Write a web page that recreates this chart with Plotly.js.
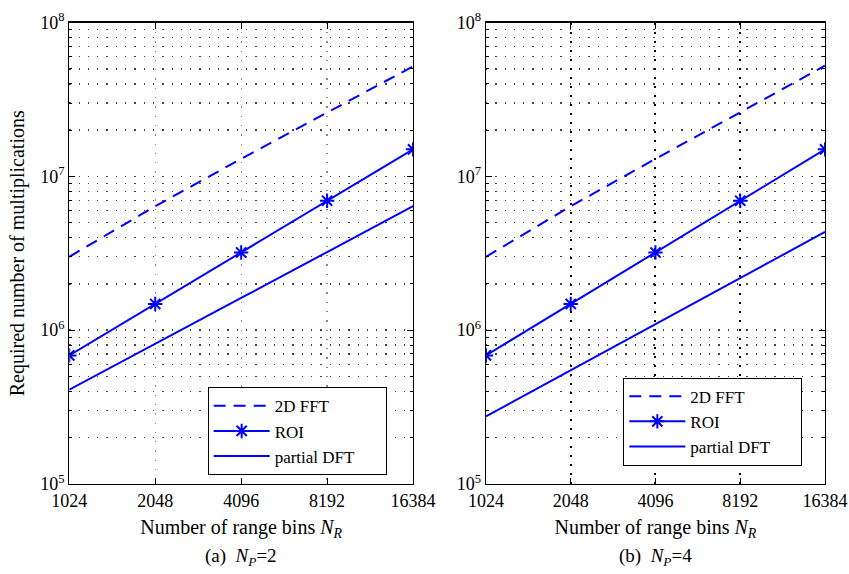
<!DOCTYPE html>
<html>
<head>
<meta charset="utf-8">
<script src="https://cdn.plot.ly/plotly-3.0.1.min.js"></script>
<style>html,body{margin:0;padding:0;background:#fff;}#chart{width:849px;height:574px;}</style>
</head>
<body>
<div id="chart"></div>
<script>
// Data
const rangeBins = [1024, 2048, 4096, 8192, 16384];
const xTickText = ['1024', '2048', '4096', '8192', '16384'];
const yMajorVals = [1e5, 1e6, 1e7, 1e8];
const yMajorText = ['10<sup>5</sup>', '10<sup>6</sup>', '10<sup>7</sup>', '10<sup>8</sup>'];
const seriesNames = ['2D FFT', 'ROI', 'partial DFT'];

// (a) N_P = 2
const fftA  = [3.0e6, 6.4e6, 1.3e7, 2.6e7, 5.2e7];
const roiA  = [6.85e5, 1.48e6, 3.2e6, 6.95e6, 1.5e7];
const pdftA = [4.1e5, 8.2e5, 1.62e6, 3.22e6, 6.4e6];
// (b) N_P = 4
const fftB  = [3.0e6, 6.4e6, 1.3e7, 2.6e7, 5.25e7];
const roiB  = [6.85e5, 1.48e6, 3.2e6, 6.95e6, 1.5e7];
const pdftB = [2.75e5, 5.5e5, 1.1e6, 2.2e6, 4.35e6];

const minorVals = [];
[1e5, 1e6, 1e7].forEach(d => { for (let k = 2; k <= 9; k++) minorVals.push(k * d); });

const BLUE = '#0000ff';
const FONT = 'Liberation Serif, Times New Roman, serif';
const PAD = '&nbsp;&nbsp;&nbsp;&nbsp;&nbsp;&nbsp;';

function traces(fft, roi, pdft, xa, ya, leg) {
  return [
    {x: rangeBins, y: fft, name: seriesNames[0] + PAD, xaxis: xa, yaxis: ya, legend: leg,
     mode: 'lines', line: {color: BLUE, width: 2, dash: '12px,8px'}},
    {x: rangeBins, y: roi, name: seriesNames[1] + PAD, xaxis: xa, yaxis: ya, legend: leg,
     mode: 'lines+markers', line: {color: BLUE, width: 2},
     marker: {symbol: 'asterisk-open', size: 12, color: BLUE, line: {color: BLUE, width: 2}}},
    {x: rangeBins, y: pdft, name: seriesNames[2] + PAD, xaxis: xa, yaxis: ya, legend: leg,
     mode: 'lines', line: {color: BLUE, width: 2}}
  ];
}

const data = [].concat(
  traces(fftA, roiA, pdftA, 'x', 'y', 'legend'),
  traces(fftB, roiB, pdftB, 'x2', 'y2', 'legend2')
);

function xAxis(domain, anchor, gridColor, gridDash, gridWidth) {
  return {
    type: 'log', domain: domain, anchor: anchor,
    range: [Math.log10(1024), Math.log10(16384)],
    tickmode: 'array', tickvals: rangeBins, ticktext: xTickText,
    ticks: 'inside', ticklen: 6, tickcolor: '#000', tickwidth: 1,
    showline: true, linecolor: '#000', linewidth: 1.2, mirror: 'allticks',
    showgrid: true, gridcolor: gridColor, griddash: gridDash, gridwidth: gridWidth,
    zeroline: false,
    tickfont: {family: FONT, size: 18, color: '#000'},
    title: {text: 'Number of range bins <i>N</i><sub><i>R</i></sub>',
            font: {family: FONT, size: 20, color: '#000'}, standoff: 10},
    automargin: false
  };
}
function yAxis(domain, anchor, gridColor, withTitle) {
  const ax = {
    type: 'log', domain: domain, anchor: anchor, range: [5, 8],
    tickmode: 'array', tickvals: yMajorVals, ticktext: yMajorText,
    ticks: 'inside', ticklen: 6, tickcolor: '#000', tickwidth: 1,
    showline: true, linecolor: '#000', linewidth: 1.2, mirror: 'allticks',
    showgrid: true, gridcolor: gridColor, griddash: '1.3px,8px', gridwidth: 1.3,
    minor: {tickmode: 'array', tickvals: minorVals, ticks: 'inside', ticklen: 3,
            tickcolor: '#000', showgrid: true, gridcolor: gridColor, griddash: '1.3px,8px', gridwidth: 1.3},
    zeroline: false,
    tickfont: {family: FONT, size: 18, color: '#000'},
    automargin: false
  };
  if (withTitle) ax.title = {text: 'Required number of multiplications',
                             font: {family: FONT, size: 20, color: '#000'}, standoff: 10};
  return ax;
}

const legendBase = {
  bgcolor: '#fff', bordercolor: '#000', borderwidth: 1,
  font: {family: FONT, size: 17, color: '#000'},
  xanchor: 'left', yanchor: 'top', itemwidth: 56, tracegroupgap: 0
};

const layout = {
  width: 849, height: 574,
  margin: {l: 0, r: 0, t: 0, b: 0},
  paper_bgcolor: '#fff', plot_bgcolor: '#fff',
  font: {family: FONT, color: '#000'},
  xaxis: xAxis([0.0816, 0.4865], 'y', '#888', '1.3px,8px', 1.3),
  yaxis: yAxis([0.157, 0.9605], 'x', '#444', true),
  xaxis2: xAxis([0.5724, 0.9717], 'y2', '#000', '2px,7px', 2),
  yaxis2: yAxis([0.157, 0.9605], 'x2', '#444', false),
  legend: Object.assign({x: 0.2446, y: 0.3253}, legendBase),
  legend2: Object.assign({x: 0.7342, y: 0.342}, legendBase),
  annotations: [
    {text: '(a)  <i>N</i><sub><i>P</i></sub>=2', xref: 'paper', yref: 'paper',
     x: 0.284, y: 1 - 557 / 574, xanchor: 'center', yanchor: 'middle', showarrow: false,
     font: {family: FONT, size: 19, color: '#000'}},
    {text: '(b)  <i>N</i><sub><i>P</i></sub>=4', xref: 'paper', yref: 'paper',
     x: 0.772, y: 1 - 557 / 574, xanchor: 'center', yanchor: 'middle', showarrow: false,
     font: {family: FONT, size: 19, color: '#000'}}
  ],
  showlegend: true
};

Plotly.newPlot('chart', data, layout, {staticPlot: true, displayModeBar: false});
</script>
</body>
</html>
